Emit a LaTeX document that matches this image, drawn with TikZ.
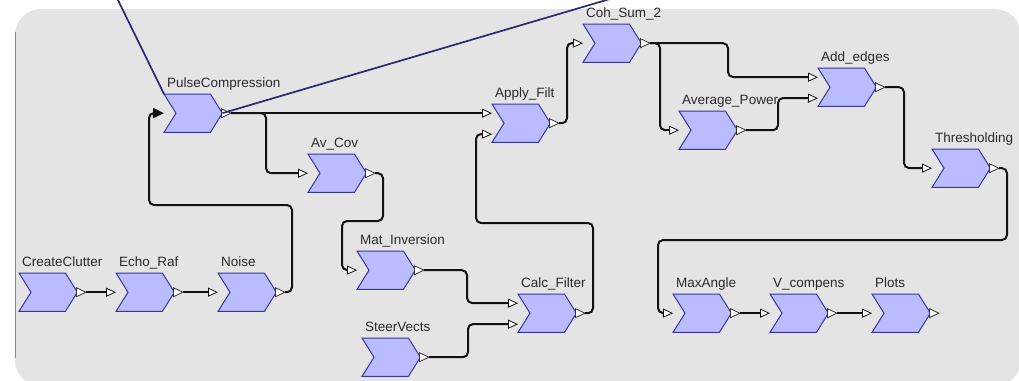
\documentclass[tikz,border=0pt]{standalone}
\usepackage{fontspec}
\setmainfont{Liberation Sans}
\usetikzlibrary{arrows.meta,calc}

\definecolor{panel}{HTML}{E4E4E4}
\definecolor{paneledge}{HTML}{8C877A}
\definecolor{blkfill}{HTML}{BBBBFF}
\definecolor{blkdraw}{HTML}{3636A2}
\definecolor{wire}{HTML}{121212}
\definecolor{navyline}{HTML}{2A2A72}
\definecolor{lbltext}{HTML}{2A2A2A}

\tikzset{
  blk/.style={minimum width=58pt, minimum height=38pt, inner sep=0pt,
              anchor=north west, draw=none},
  chev/.style={fill=blkfill, draw=blkdraw, line width=1pt, line join=miter},
  outport/.style={fill=white, draw=black!80, line width=0.8pt},
  lbl/.style={anchor=base west, inner sep=0pt, text=lbltext,
              font=\fontsize{13.5}{13.5}\selectfont},
  conn/.style={line width=2pt, draw=wire, rounded corners=5pt,
               -{Triangle[length=10pt,width=9pt,fill=white,line width=0.8pt]}},
  connfilled/.style={line width=2pt, draw=wire, rounded corners=5pt,
               -{Triangle[length=11pt,width=10pt]}},
  probe/.style={line width=1.7pt, draw=navyline},
}

% block: name, left x, top y, caption
\newcommand\flowblock[4]{%
  \node[blk] (#1) at (#2,#3) {};
  \draw[chev] (#1.north west) -- ([xshift=-12pt]#1.north east) -- (#1.east)
     -- ([xshift=-12pt]#1.south east) -- (#1.south west)
     -- ([xshift=12pt]#1.west) -- cycle;
  \draw[outport] ([xshift=-1pt,yshift=4.5pt]#1.east) -- ([xshift=-1pt,yshift=-4.5pt]#1.east)
     -- ([xshift=8.5pt]#1.east) -- cycle;
  \coordinate (#1-o) at ([xshift=8.5pt]#1.east);
  \coordinate (#1-i1) at ([yshift=10pt]#1.west);
  \coordinate (#1-i2) at ([yshift=-11pt]#1.west);
  \node[lbl] (#1-l) at ([xshift=3pt,yshift=7pt]#1.north west) {#4};
}

\begin{document}
\begin{tikzpicture}[x=1pt,y=-1pt]
\useasboundingbox (0,0) rectangle (1019,380);

% panel
\begin{scope}
  \clip (0,0) rectangle (1019,380);
  \fill[panel, rounded corners=26pt] (15,9) rectangle (1021,386);
  \draw[paneledge, line width=1pt] (15.5,32) -- (15.5,358);
\end{scope}

% blocks
\flowblock{cc}{19}{273}{CreateClutter}
\flowblock{er}{116}{273}{Echo\_Raf}
\flowblock{ns}{218}{273}{Noise}
\flowblock{pc}{164}{94}{PulseCompression}
\flowblock{av}{308}{154}{Av\_Cov}
\flowblock{mi}{357}{251}{Mat\_Inversion}
\flowblock{sv}{362}{338}{SteerVects}
\flowblock{cf}{518}{294}{Calc\_Filter}
\flowblock{af}{492}{104}{Apply\_Filt}
\flowblock{cs}{583}{24}{Coh\_Sum\_2}
\flowblock{ae}{818}{68}{Add\_edges}
\flowblock{ap}{679}{111}{Average\_Power}
\flowblock{th}{932}{149}{Thresholding}
\flowblock{ma}{673}{294}{MaxAngle}
\flowblock{vc}{770}{294}{V\_compens}
\flowblock{pl}{872}{294}{Plots}

% connections
\draw[conn] (cc-o) -- (er.west);
\draw[conn] (er-o) -- (ns.west);
\draw[connfilled] (ns-o) -| (292,205) -| (149,113) -- (pc.west);
\draw[conn] (pc-o) -- (af-i1);
\draw[conn] (pc-o) -- (266,113) |- (av.west);
\draw[conn] (av-o) -| (383,221) -| (342,270) -- (mi.west);
\draw[conn] (mi-o) -| (467,303) -- (cf-i1);
\draw[conn] (sv-o) -| (468,324) -- (cf-i2);
\draw[conn] (cf-o) -| (593,223) -| (476,134) -- (af-i2);
\draw[conn] (af-o) -| (567,43) -- (cs.west);
\draw[conn] (cs-o) -| (728,77) -- (ae-i1);
\draw[conn] (cs-o) -- (660,43) |- (ap.west);
\draw[conn] (ap-o) -| (778,98) -- (ae-i2);
\draw[conn] (ae-o) -| (904,168) -- (th.west);
\draw[conn] (th-o) -| (1007,240) -| (658,313) -- (ma.west);
\draw[conn] (ma-o) -- (vc.west);
\draw[conn] (vc-o) -- (pl.west);

% probe lines
\coordinate (probeA) at (116,-4);
\coordinate (probeB) at (620,-4);
\begin{scope}
  \clip (0,0) rectangle (1019,380);
  \draw[probe] (probeA) -- (pc.north west);
  \draw[probe] (pc.east) -- (probeB);
\end{scope}
\end{tikzpicture}
\end{document}
